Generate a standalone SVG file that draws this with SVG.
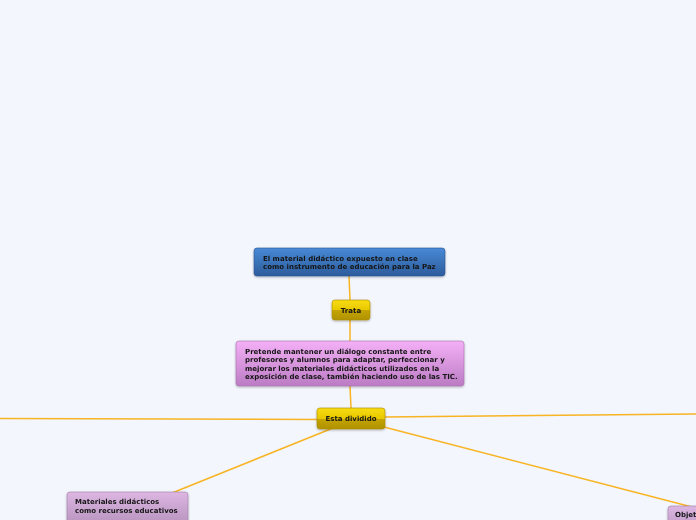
<svg xmlns="http://www.w3.org/2000/svg" width="696" height="520" viewBox="0 0 696 520">
<defs>
<linearGradient id="gBlue" x1="0" y1="0" x2="0" y2="1"><stop offset="0" stop-color="#4889d6"/><stop offset="1" stop-color="#2d5c9c"/></linearGradient>
<linearGradient id="gYel" x1="0" y1="0" x2="0" y2="1"><stop offset="0" stop-color="#f8dc10"/><stop offset="0.5" stop-color="#e8c800"/><stop offset="0.52" stop-color="#c4a400"/><stop offset="1" stop-color="#b09200"/></linearGradient>
<linearGradient id="gPur" x1="0" y1="0" x2="0" y2="1"><stop offset="0" stop-color="#f4b0f6"/><stop offset="1" stop-color="#bb7cc4"/></linearGradient>
<linearGradient id="gLav" x1="0" y1="0" x2="0" y2="1"><stop offset="0" stop-color="#ddb6e2"/><stop offset="1" stop-color="#b692bd"/></linearGradient>
<filter id="sh" x="-10%" y="-20%" width="120%" height="150%"><feDropShadow dx="0" dy="1" stdDeviation="0.8" flood-color="#000" flood-opacity="0.3"/></filter>
</defs>
<style>
text{font-family:"DejaVu Sans",Verdana,sans-serif;font-weight:bold;font-size:7px;fill:#151515}
.c{fill:none;stroke:#f8b422;stroke-width:1.5}
.n{filter:url(#sh)}
</style>
<rect width="696" height="520" fill="#f3f6fd"/>
<g id="connectors">
<line class="c" x1="349" y1="276" x2="350" y2="300"/>
<line class="c" x1="350" y1="320" x2="350" y2="341"/>
<line class="c" x1="350" y1="386" x2="351" y2="408"/>
<line class="c" x1="318" y1="419.5" x2="0" y2="418.5"/>
<line class="c" x1="384" y1="417" x2="696" y2="414"/>
<line class="c" x1="333" y1="428" x2="172" y2="493"/>
<line class="c" x1="384" y1="427" x2="692" y2="507"/>
</g>
<g id="n-top" class="n">
<rect x="254" y="248" width="191" height="28" rx="3" fill="url(#gBlue)" stroke="#2a5690" stroke-width="0.6"/>
<text x="263" y="260.5">El material didáctico expuesto en clase</text>
<text x="263" y="269">como instrumento de educación para la Paz</text>
</g>
<g id="n-trata" class="n">
<rect x="332" y="300" width="38" height="20" rx="3" fill="url(#gYel)" stroke="#a88c00" stroke-width="0.6"/>
<text x="351" y="312.5" text-anchor="middle">Trata</text>
</g>
<g id="n-pretende" class="n">
<rect x="236" y="341" width="228" height="45" rx="3" fill="url(#gPur)" stroke="#a870b0" stroke-width="0.6"/>
<text x="245" y="353.5">Pretende mantener un diálogo constante entre</text>
<text x="245" y="362">profesores y alumnos para adaptar, perfeccionar y</text>
<text x="245" y="370.5">mejorar los materiales didácticos utilizados en la</text>
<text x="245" y="379">exposición de clase, también haciendo uso de las TIC.</text>
</g>
<g id="n-esta" class="n">
<rect x="317" y="408" width="68" height="21" rx="3" fill="url(#gYel)" stroke="#a88c00" stroke-width="0.6"/>
<text x="351" y="420.5" text-anchor="middle">Esta dividido</text>
</g>
<g id="n-materiales" class="n">
<rect x="67" y="492" width="121" height="34" rx="3" fill="url(#gLav)" stroke="#a080a8" stroke-width="0.6"/>
<text x="75" y="504">Materiales didácticos</text>
<text x="75" y="513">como recursos educativos</text>
</g>
<g id="n-objet" class="n">
<rect x="668" y="506" width="60" height="30" rx="3" fill="url(#gLav)" stroke="#a080a8" stroke-width="0.6"/>
<text x="675" y="517">Objet</text>
</g>
</svg>
